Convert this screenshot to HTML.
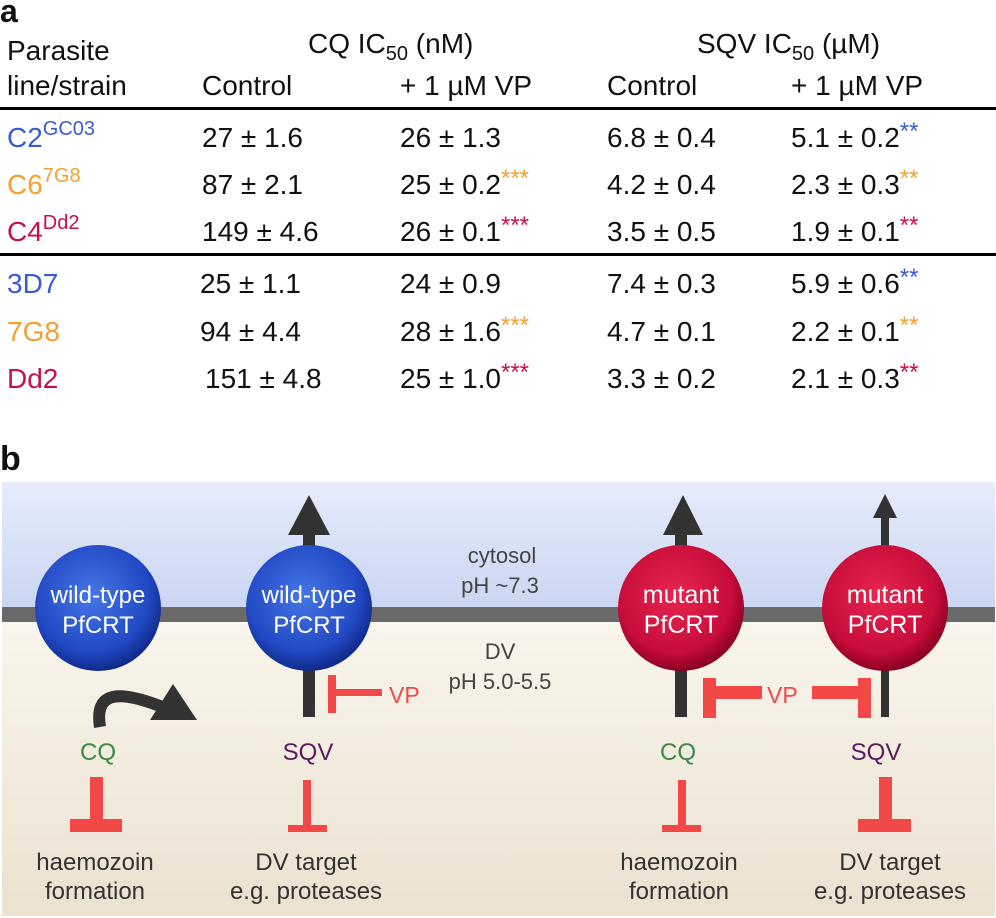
<!DOCTYPE html>
<html><head><meta charset="utf-8"><style>
html,body{margin:0;padding:0;background:#fff}
svg{display:block;font-family:"Liberation Sans",sans-serif}
</style></head><body>
<svg width="996" height="918" viewBox="0 0 996 918">
<defs>
<linearGradient id="top" x1="0" y1="0" x2="0" y2="1"><stop offset="0" stop-color="#e6ecfb"/><stop offset="1" stop-color="#c9d4f1"/></linearGradient>
<linearGradient id="bot" x1="0" y1="0" x2="0" y2="1"><stop offset="0" stop-color="#f9f6ee"/><stop offset="1" stop-color="#ebe1cf"/></linearGradient>
<radialGradient id="blue" cx="0.45" cy="0.4" r="0.6"><stop offset="0" stop-color="#4677e6"/><stop offset="0.75" stop-color="#2249c4"/><stop offset="1" stop-color="#102a8a"/></radialGradient>
<radialGradient id="red" cx="0.45" cy="0.4" r="0.6"><stop offset="0" stop-color="#e8264f"/><stop offset="0.75" stop-color="#c80d3a"/><stop offset="1" stop-color="#8a0022"/></radialGradient>
</defs>

<!-- Panel a -->
<g font-size="28" fill="#111">
<text x="0" y="22" font-size="32" font-weight="bold">a</text>
<text x="7" y="60">Parasite</text>
<text x="7" y="95">line/strain</text>
<text x="308" y="53">CQ IC<tspan font-size="20" dy="7">50</tspan><tspan dy="-7"> (nM)</tspan></text>
<text x="697" y="53">SQV IC<tspan font-size="20" dy="7">50</tspan><tspan dy="-7"> (µM)</tspan></text>
<text x="202" y="95">Control</text>
<text x="400" y="95">+ 1 µM VP</text>
<text x="607" y="95">Control</text>
<text x="791" y="95">+ 1 µM VP</text>
<rect x="0" y="107" width="996" height="3" fill="#000"/>
<rect x="0" y="253" width="996" height="3" fill="#000"/>

<g>
<text x="7" y="147" fill="#3a5bd0">C2<tspan font-size="20" dy="-12">GC03</tspan></text>
<text x="202" y="147">27 ± 1.6</text><text x="400" y="147">26 ± 1.3</text>
<text x="607" y="147">6.8 ± 0.4</text><text x="791" y="147">5.1 ± 0.2<tspan fill="#3a5bd0" font-size="24" dy="-8">**</tspan></text>
</g>
<g>
<text x="7" y="194" fill="#f5a030">C6<tspan font-size="20" dy="-12">7G8</tspan></text>
<text x="202" y="194">87 ± 2.1</text><text x="400" y="194">25 ± 0.2<tspan fill="#f5a030" font-size="24" dy="-8">***</tspan></text>
<text x="607" y="194">4.2 ± 0.4</text><text x="791" y="194">2.3 ± 0.3<tspan fill="#f5a030" font-size="24" dy="-8">**</tspan></text>
</g>
<g>
<text x="7" y="241" fill="#c8104a">C4<tspan font-size="20" dy="-12">Dd2</tspan></text>
<text x="202" y="241">149 ± 4.6</text><text x="400" y="241">26 ± 0.1<tspan fill="#c8104a" font-size="24" dy="-8">***</tspan></text>
<text x="607" y="241">3.5 ± 0.5</text><text x="791" y="241">1.9 ± 0.1<tspan fill="#c8104a" font-size="24" dy="-8">**</tspan></text>
</g>
<g>
<text x="7" y="293" fill="#3a5bd0">3D7</text>
<text x="200" y="293">25 ± 1.1</text><text x="400" y="293">24 ± 0.9</text>
<text x="607" y="293">7.4 ± 0.3</text><text x="791" y="293">5.9 ± 0.6<tspan fill="#3a5bd0" font-size="24" dy="-8">**</tspan></text>
</g>
<g>
<text x="7" y="341" fill="#f5a030">7G8</text>
<text x="200" y="341">94 ± 4.4</text><text x="400" y="341">28 ± 1.6<tspan fill="#f5a030" font-size="24" dy="-8">***</tspan></text>
<text x="607" y="341">4.7 ± 0.1</text><text x="791" y="341">2.2 ± 0.1<tspan fill="#f5a030" font-size="24" dy="-8">**</tspan></text>
</g>
<g>
<text x="7" y="388" fill="#c8104a">Dd2</text>
<text x="205" y="388">151 ± 4.8</text><text x="400" y="388">25 ± 1.0<tspan fill="#c8104a" font-size="24" dy="-8">***</tspan></text>
<text x="607" y="388">3.3 ± 0.2</text><text x="791" y="388">2.1 ± 0.3<tspan fill="#c8104a" font-size="24" dy="-8">**</tspan></text>
</g>
</g>

<!-- Panel b -->
<text x="0" y="470" font-size="34" font-weight="bold" fill="#111">b</text>
<g>
<rect x="2" y="482" width="993" height="133" fill="url(#top)"/>
<rect x="2" y="615" width="993" height="301" fill="url(#bot)"/>
<rect x="2" y="607" width="993" height="15" fill="#6a6a6a"/>

<g fill="#444" font-size="22" text-anchor="middle">
<text x="502" y="563">cytosol</text><text x="500" y="593">pH ~7.3</text>
<text x="500" y="659">DV</text><text x="500" y="689">pH 5.0-5.5</text>
</g>

<g fill="#333">
<rect x="303" y="530" width="12" height="50"/><polygon points="288,535 330,535 309,495"/>
<rect x="675" y="530" width="12" height="50"/><polygon points="663,535 703,535 683,495"/>
<rect x="881" y="512" width="8" height="60"/><polygon points="873,518 897,518 885,494"/>
<rect x="303" y="660" width="12" height="57"/>
<rect x="675" y="660" width="12" height="57"/>
<rect x="881" y="660" width="8" height="57"/>
<path d="M100,727 C94,690 120,690 165,708" stroke="#333" stroke-width="12" fill="none"/>
<polygon points="150,720 197,720 173,684"/>
</g>

<g>
<circle cx="98" cy="608" r="63" fill="url(#blue)"/>
<text x="98" y="603" fill="#fff" font-size="24" text-anchor="middle">wild-type</text>
<text x="98" y="633" fill="#fff" font-size="24" text-anchor="middle">PfCRT</text>
</g>
<g>
<circle cx="309" cy="608" r="63" fill="url(#blue)"/>
<text x="309" y="603" fill="#fff" font-size="24" text-anchor="middle">wild-type</text>
<text x="309" y="633" fill="#fff" font-size="24" text-anchor="middle">PfCRT</text>
</g>
<g>
<circle cx="681" cy="608" r="63" fill="url(#red)"/>
<text x="681" y="603" fill="#fff" font-size="25" text-anchor="middle">mutant</text>
<text x="681" y="633" fill="#fff" font-size="25" text-anchor="middle">PfCRT</text>
</g>
<g>
<circle cx="885" cy="608" r="63" fill="url(#red)"/>
<text x="885" y="603" fill="#fff" font-size="25" text-anchor="middle">mutant</text>
<text x="885" y="633" fill="#fff" font-size="25" text-anchor="middle">PfCRT</text>
</g>

<g fill="#f24848">
<rect x="328" y="675" width="8" height="38"/><rect x="336" y="689" width="46" height="7"/>
<text x="389" y="703" font-size="23">VP</text>
<rect x="703" y="678" width="13" height="40"/><rect x="716" y="686" width="46" height="13"/>
<text x="767" y="703" font-size="23">VP</text>
<rect x="812" y="686" width="46" height="13"/><rect x="858" y="678" width="13" height="40"/>
</g>

<g font-size="24" text-anchor="middle">
<text x="98" y="760" fill="#3a8a4a">CQ</text>
<text x="308" y="760" fill="#5a1a5e">SQV</text>
<text x="678" y="760" fill="#3a8a4a">CQ</text>
<text x="876" y="760" fill="#5a1a5e">SQV</text>
</g>

<g fill="#f24848">
<rect x="90" y="777" width="13" height="45"/><rect x="70" y="819" width="52" height="13"/>
<rect x="303" y="780" width="8" height="46"/><rect x="288" y="825" width="39" height="7"/>
<rect x="678" y="780" width="8" height="46"/><rect x="662" y="825" width="39" height="7"/>
<rect x="879" y="777" width="13" height="45"/><rect x="858" y="819" width="53" height="13"/>
</g>

<g font-size="24" fill="#333" text-anchor="middle">
<text x="95" y="870">haemozoin</text><text x="95" y="899">formation</text>
<text x="306" y="870">DV target</text><text x="306" y="899">e.g. proteases</text>
<text x="679" y="870">haemozoin</text><text x="679" y="899">formation</text>
<text x="890" y="870">DV target</text><text x="890" y="899">e.g. proteases</text>
</g>
</g>
</svg>
</body></html>
